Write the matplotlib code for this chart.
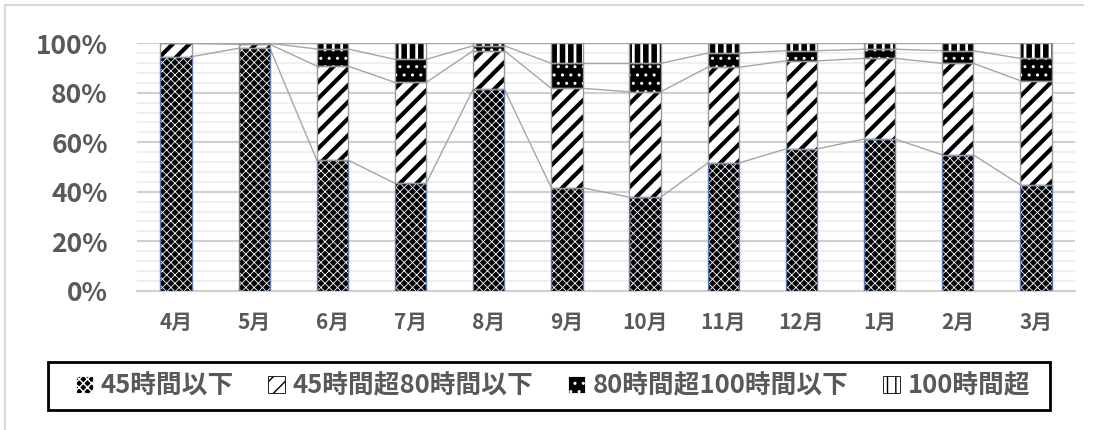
import matplotlib
matplotlib.use("Agg")
import matplotlib.pyplot as plt
import numpy as np
from matplotlib.patches import Rectangle
from matplotlib.lines import Line2D
from matplotlib.ticker import MultipleLocator, FuncFormatter

plt.rcParams['font.family'] = ['Noto Sans CJK JP', 'DejaVu Sans']

months = ['4月', '5月', '6月', '7月', '8月', '9月', '10月', '11月', '12月', '1月', '2月', '3月']
series_names = ['45時間以下', '45時間超80時間以下', '80時間超100時間以下', '100時間超']
le45 = [94.6, 98.0, 52.8, 43.4, 81.4, 41.6, 37.8, 51.6, 57.3, 61.3, 54.9, 42.8]
h45_80 = [5.4, 1.6, 38.0, 40.8, 15.6, 40.2, 42.6, 38.7, 35.6, 32.6, 37.0, 42.1]
h80_100 = [0.0, 0.4, 6.9, 9.3, 2.0, 10.1, 11.5, 5.7, 4.1, 3.7, 5.1, 9.0]
over100 = [0.0, 0.0, 2.3, 6.5, 1.0, 8.1, 8.1, 4.0, 3.0, 2.4, 3.0, 6.1]

# style per series: face, hatch, hatch colour, hatch lw, outline colour
styles = [
    dict(face='black', hatch='xxxx', hc='white', hlw=0.6, oc='#5b7bb0'),
    dict(face='white', hatch='//', hc='black', hlw=3.0, oc='#9a9a9a'),
    dict(face='black', hatch='..', hc='white', hlw=1.0, oc='#9a9a9a'),
    dict(face='white', hatch='||', hc='black', hlw=4.0, oc='#9a9a9a'),
]

TXT = '#595959'
fig = plt.figure(figsize=(10.93, 4.30), dpi=100)
ax = fig.add_axes([137/1093, 1-290.7/430, (1075-137)/1093, (290.7-43.3)/430])

x = np.arange(len(months))
w = 0.40
data = [le45, h45_80, h80_100, over100]


def make_bars(target_ax, xs, heights, bottoms, st, width):
    with plt.rc_context({'hatch.linewidth': st['hlw'], 'hatch.color': st['hc']}):
        bars = target_ax.bar(xs, heights, width, bottom=bottoms, color=st['face'],
                             edgecolor=st['hc'], linewidth=0, hatch=st['hatch'], zorder=3)
    for b in bars:
        if hasattr(b, 'set_hatch_linewidth'):
            b.set_hatch_linewidth(st['hlw'])
    target_ax.bar(xs, heights, width, bottom=bottoms, fill=False,
                  edgecolor=st['oc'], linewidth=1.0, zorder=4)


bottom = np.zeros(len(months))
tops = []
for vals, st in zip(data, styles):
    v = np.array(vals)
    make_bars(ax, x, v, bottom, st, w)
    bottom = bottom + v
    tops.append(bottom.copy())

# series lines
for t in tops:
    for i in range(len(months) - 1):
        ax.plot([x[i] + w/2, x[i+1] - w/2], [t[i], t[i+1]], color='#a6a6a6', lw=1.0, zorder=2)

ax.set_xlim(-0.5, len(months) - 0.5)
ax.set_ylim(0, 100)
ax.yaxis.set_major_locator(MultipleLocator(20))
ax.yaxis.set_minor_locator(MultipleLocator(4))
ax.yaxis.set_major_formatter(FuncFormatter(lambda v, p: f'{v:.0f}%'))
ax.grid(axis='y', which='major', color='#d0d0d0', lw=1.5, zorder=0)
ax.grid(axis='y', which='minor', color='#efefef', lw=1.5, zorder=0)
ax.set_axisbelow(True)
for s in ['top', 'right', 'left']:
    ax.spines[s].set_visible(False)
ax.spines['bottom'].set_color('#d0d0d0')
ax.spines['bottom'].set_linewidth(1.5)
ax.set_xticks(x)
ax.set_xticklabels(months)
ax.tick_params(axis='x', length=0, pad=15, labelsize=15, labelcolor=TXT)
ax.tick_params(axis='y', which='both', length=0, pad=21, labelsize=19, labelcolor=TXT)
for lab in ax.get_xticklabels() + ax.get_yticklabels():
    lab.set_fontweight('bold')

# legend
handles = []
for name, st in zip(series_names, styles):
    with plt.rc_context({'hatch.linewidth': st['hlw'], 'hatch.color': st['hc']}):
        r = Rectangle((0, 0), 1, 1, facecolor=st['face'], edgecolor=st['hc'],
                      linewidth=0.6, hatch=st['hatch'])
    if hasattr(r, 'set_hatch_linewidth'):
        r.set_hatch_linewidth(st['hlw'])
    handles.append(r)
leg = fig.legend(handles, series_names, loc='center', ncol=4,
                 bbox_to_anchor=(553/1093, 1-386/430), frameon=False,
                 prop={'family': ['Noto Sans CJK JP', 'DejaVu Sans'], 'weight': 'bold', 'size': 18.5},
                 handlelength=0.65, handleheight=0.65, handletextpad=0.3, columnspacing=1.35,
                 borderpad=0)
for t in leg.get_texts():
    t.set_color(TXT)

fig.add_artist(Rectangle((48/1093, 1-410/430), (1050-48)/1093, (410-362)/430,
                         transform=fig.transFigure, fill=False, edgecolor='black', lw=2))
# chart area border (top and left)
fig.add_artist(Line2D([5/1093, 1083/1093], [1-5/430, 1-5/430], transform=fig.transFigure,
                      color='#d9d9d9', lw=1.5))
fig.add_artist(Line2D([5/1093, 5/1093], [0, 1-5/430], transform=fig.transFigure,
                      color='#d9d9d9', lw=1.5))

fig.savefig('out.png', dpi=100)
